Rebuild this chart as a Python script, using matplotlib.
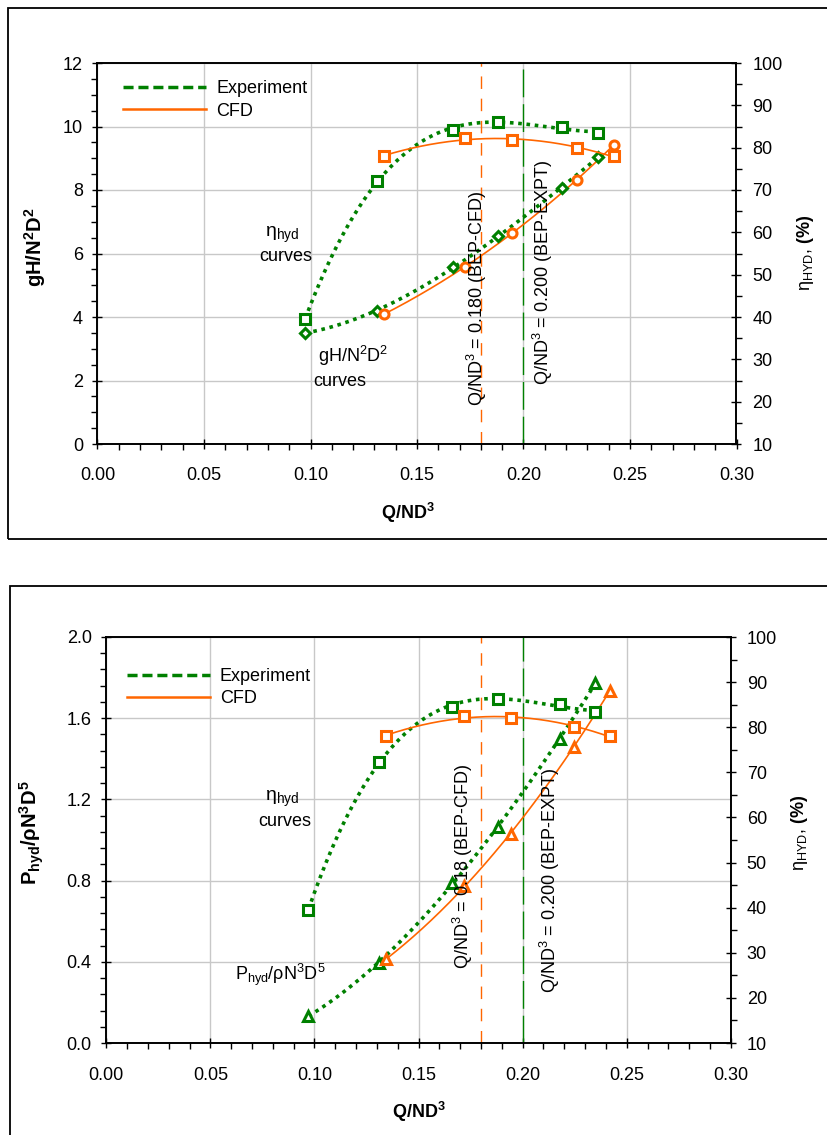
import numpy as np
import matplotlib.pyplot as plt
from matplotlib.patches import Rectangle
from matplotlib.lines import Line2D
from matplotlib.ticker import MultipleLocator, FormatStrFormatter

plt.rcParams['font.family'] = ['Liberation Sans', 'DejaVu Sans']
plt.rcParams['mathtext.fontset'] = 'custom'
plt.rcParams['mathtext.rm'] = 'Liberation Sans'
plt.rcParams['mathtext.it'] = 'Liberation Sans:italic'
plt.rcParams['mathtext.bf'] = 'Liberation Sans:bold'

GREEN = '#008000'
ORANGE = '#ff6600'
FS = 13

# top chart: head coefficient and hydraulic efficiency
q_exp_top = [0.0975, 0.131, 0.167, 0.188, 0.218, 0.235]
eta_exp_top = [39.5, 72.1, 84.2, 86.1, 84.9, 83.5]
head_exp = [3.50, 4.19, 5.57, 6.55, 8.06, 9.04]
q_cfd_top = [0.1345, 0.1725, 0.1945, 0.225, 0.2423]
eta_cfd_top = [78.0, 82.3, 81.8, 79.9, 78.0]
head_cfd = [4.09, 5.57, 6.65, 8.31, 9.42]

# bottom chart: power coefficient and hydraulic efficiency
q_exp_bot = [0.0971, 0.1308, 0.1663, 0.188, 0.2178, 0.235]
eta_exp_bot = [39.5, 72.3, 84.5, 86.3, 85.1, 83.4]
power_exp = [0.133, 0.394, 0.788, 1.064, 1.498, 1.773]
q_cfd_bot = [0.1346, 0.172, 0.1942, 0.2245, 0.2418]
eta_cfd_bot = [78.1, 82.5, 82.0, 80.0, 78.1]
power_cfd = [0.414, 0.773, 1.03, 1.458, 1.734]

bep_cfd = 0.180
bep_exp = 0.200

W, H = 828, 1135


def fx(px):
    return px / W


def fy(py):
    return 1 - py / H


def trend(ax, q, y, deg, exp):
    c = np.polyfit(q, y, deg)
    xs = np.linspace(min(q), max(q), 200)
    if exp:
        ax.plot(xs, np.polyval(c, xs), color=GREEN, lw=2.6, ls=(0, (1, 1.3)), zorder=3)
    else:
        ax.plot(xs, np.polyval(c, xs), color=ORANGE, lw=1.2, zorder=3)


def points(ax, q, y, marker, color, ms=6.5):
    ax.plot(q, y, ls='none', marker=marker, ms=ms, mew=2.2, mfc='white',
            mec=color, zorder=4)


def setup(ax, axr, ylim, ymaj, ymin, yfmt, xpad):
    ax.set_xlim(0, 0.30)
    ax.set_ylim(*ylim)
    axr.set_ylim(10, 100)
    ax.xaxis.set_major_locator(MultipleLocator(0.05))
    ax.xaxis.set_minor_locator(MultipleLocator(0.01))
    ax.xaxis.set_major_formatter(FormatStrFormatter('%.2f'))
    ax.yaxis.set_major_locator(MultipleLocator(ymaj))
    ax.yaxis.set_minor_locator(MultipleLocator(ymin))
    ax.yaxis.set_major_formatter(FormatStrFormatter(yfmt))
    axr.yaxis.set_major_locator(MultipleLocator(10))
    axr.yaxis.set_minor_locator(MultipleLocator(5))
    ax.grid(True, which='major', color='#c8c8c8', lw=1)
    ax.set_axisbelow(True)
    ax.tick_params(which='major', direction='inout', length=7, width=1,
                   labelsize=FS, pad=7)
    ax.tick_params(axis='x', which='major', pad=xpad)
    ax.tick_params(which='minor', direction='out', length=4, width=1)
    axr.tick_params(which='major', direction='inout', length=7, width=1,
                    labelsize=FS, pad=8)
    axr.tick_params(which='minor', direction='out', length=4, width=1)
    for a in (ax, axr):
        for s in a.spines.values():
            s.set_linewidth(1.2)
            s.set_color('black')


def legend(axr, x, y):
    handles = [Line2D([], [], color=GREEN, lw=2.5, ls=(0, (2.9, 1.4))),
               Line2D([], [], color=ORANGE, lw=1.8)]
    axr.legend(handles, ['Experiment', 'CFD'], loc='upper left',
               bbox_to_anchor=(x, y), frameon=False, fontsize=FS,
               handlelength=4.6, handletextpad=0.55, labelspacing=0.3,
               borderpad=0, borderaxespad=0)


fig = plt.figure(figsize=(W / 100, H / 100), dpi=100)

# ---------- top chart ----------
ax1 = fig.add_axes([fx(97.5), fy(444), (736.5 - 97.5) / W, (444 - 63) / H])
ax1r = ax1.twinx()
setup(ax1, ax1r, (0, 12), 2, 0.5, '%d', 13)

ax1.axvline(bep_cfd, color=ORANGE, lw=1, ls=(0, (9, 7)), zorder=2)
ax1.axvline(bep_exp, color=GREEN, lw=1, ls=(0, (20, 5)), zorder=2)

trend(ax1, q_exp_top, head_exp, 3, True)
points(ax1, q_exp_top, head_exp, 'D', GREEN, ms=5.5)
trend(ax1, q_cfd_top, head_cfd, 3, False)
points(ax1, q_cfd_top, head_cfd, 'o', ORANGE)

trend(ax1r, q_exp_top, eta_exp_top, 3, True)
points(ax1r, q_exp_top, eta_exp_top, 's', GREEN)
trend(ax1r, q_cfd_top, eta_cfd_top, 2, False)
points(ax1r, q_cfd_top, eta_cfd_top, 's', ORANGE)

ax1.text(0.178, 4.57, r'Q/ND$^3$ = 0.180 (BEP-CFD)', rotation=90,
         ha='center', va='center', fontsize=FS, zorder=5)
ax1.text(0.209, 5.4, r'Q/ND$^3$ = 0.200 (BEP-EXPT)', rotation=90,
         ha='center', va='center', fontsize=FS, zorder=5)
legend(ax1r, 0.040, 0.955)

fig.text(fx(265), fy(235), r'η$_{\mathrm{hyd}}$', fontsize=14, ha='left', va='center')
fig.text(fx(259), fy(257), 'curves', fontsize=FS, ha='left', va='center')
fig.text(fx(318), fy(356), r'gH/N$^2$D$^2$', fontsize=FS, ha='left', va='center')
fig.text(fx(313), fy(381), 'curves', fontsize=FS, ha='left', va='center')

fig.text(fx(35), fy(247), r'$\mathbf{gH/N^2D^2}$', rotation=90, fontsize=14.5,
         ha='center', va='center')
fig.text(fx(806), fy(253), r'η$_{\mathrm{HYD}}$, $\mathbf{(\%)}$', rotation=90,
         fontsize=FS, ha='center', va='center')
fig.text(fx(408), fy(513), r'$\mathbf{Q/ND^3}$', fontsize=FS, ha='center', va='center')

# ---------- bottom chart ----------
ax2 = fig.add_axes([fx(106.3), fy(1043), 624.5 / W, (1043 - 637) / H])
ax2r = ax2.twinx()
setup(ax2, ax2r, (0, 2.0), 0.4, 0.08, '%.1f', 13.5)

ax2.axvline(bep_cfd, color=ORANGE, lw=1, ls=(0, (9, 7)), zorder=2)
ax2.axvline(bep_exp, color=GREEN, lw=1, ls=(0, (20, 5)), zorder=2)

trend(ax2, q_exp_bot, power_exp, 3, True)
points(ax2, q_exp_bot, power_exp, '^', GREEN, ms=7)
trend(ax2, q_cfd_bot, power_cfd, 2, False)
points(ax2, q_cfd_bot, power_cfd, '^', ORANGE, ms=7)

trend(ax2r, q_exp_bot, eta_exp_bot, 3, True)
points(ax2r, q_exp_bot, eta_exp_bot, 's', GREEN)
trend(ax2r, q_cfd_bot, eta_cfd_bot, 2, False)
points(ax2r, q_cfd_bot, eta_cfd_bot, 's', ORANGE)

ax2.text(0.1713, 0.87, r'Q/ND$^3$ = 0.18 (BEP-CFD)', rotation=90,
         ha='center', va='center', fontsize=FS, zorder=5)
ax2.text(0.213, 0.80, r'Q/ND$^3$ = 0.200 (BEP-EXPT)', rotation=90,
         ha='center', va='center', fontsize=FS, zorder=5)
legend(ax2r, 0.033, 0.924)

fig.text(fx(265), fy(799), r'η$_{\mathrm{hyd}}$', fontsize=14, ha='left', va='center')
fig.text(fx(258), fy(822), 'curves', fontsize=FS, ha='left', va='center')
fig.text(fx(235), fy(975), r'P$_{\mathrm{hyd}}$/ρN$^3$D$^5$', fontsize=FS,
         ha='left', va='center')

fig.text(fx(32), fy(833), r'$\mathbf{P_{hyd}/\rho N^3D^5}$', rotation=90,
         fontsize=14.5, ha='center', va='center')
fig.text(fx(800), fy(833), r'η$_{\mathrm{HYD}}$, $\mathbf{(\%)}$', rotation=90,
         fontsize=FS, ha='center', va='center')
fig.text(fx(419), fy(1112), r'$\mathbf{Q/ND^3}$', fontsize=FS, ha='center', va='center')

# chart area borders
fig.patches.append(Rectangle((fx(8), fy(539)), fx(840) - fx(8), (539 - 8) / H,
                             transform=fig.transFigure, fill=False,
                             ec='black', lw=1.3))
fig.patches.append(Rectangle((fx(10), fy(1150)), fx(840) - fx(10), (1150 - 586) / H,
                             transform=fig.transFigure, fill=False,
                             ec='black', lw=1.3))

fig.savefig('out.png', dpi=100)
